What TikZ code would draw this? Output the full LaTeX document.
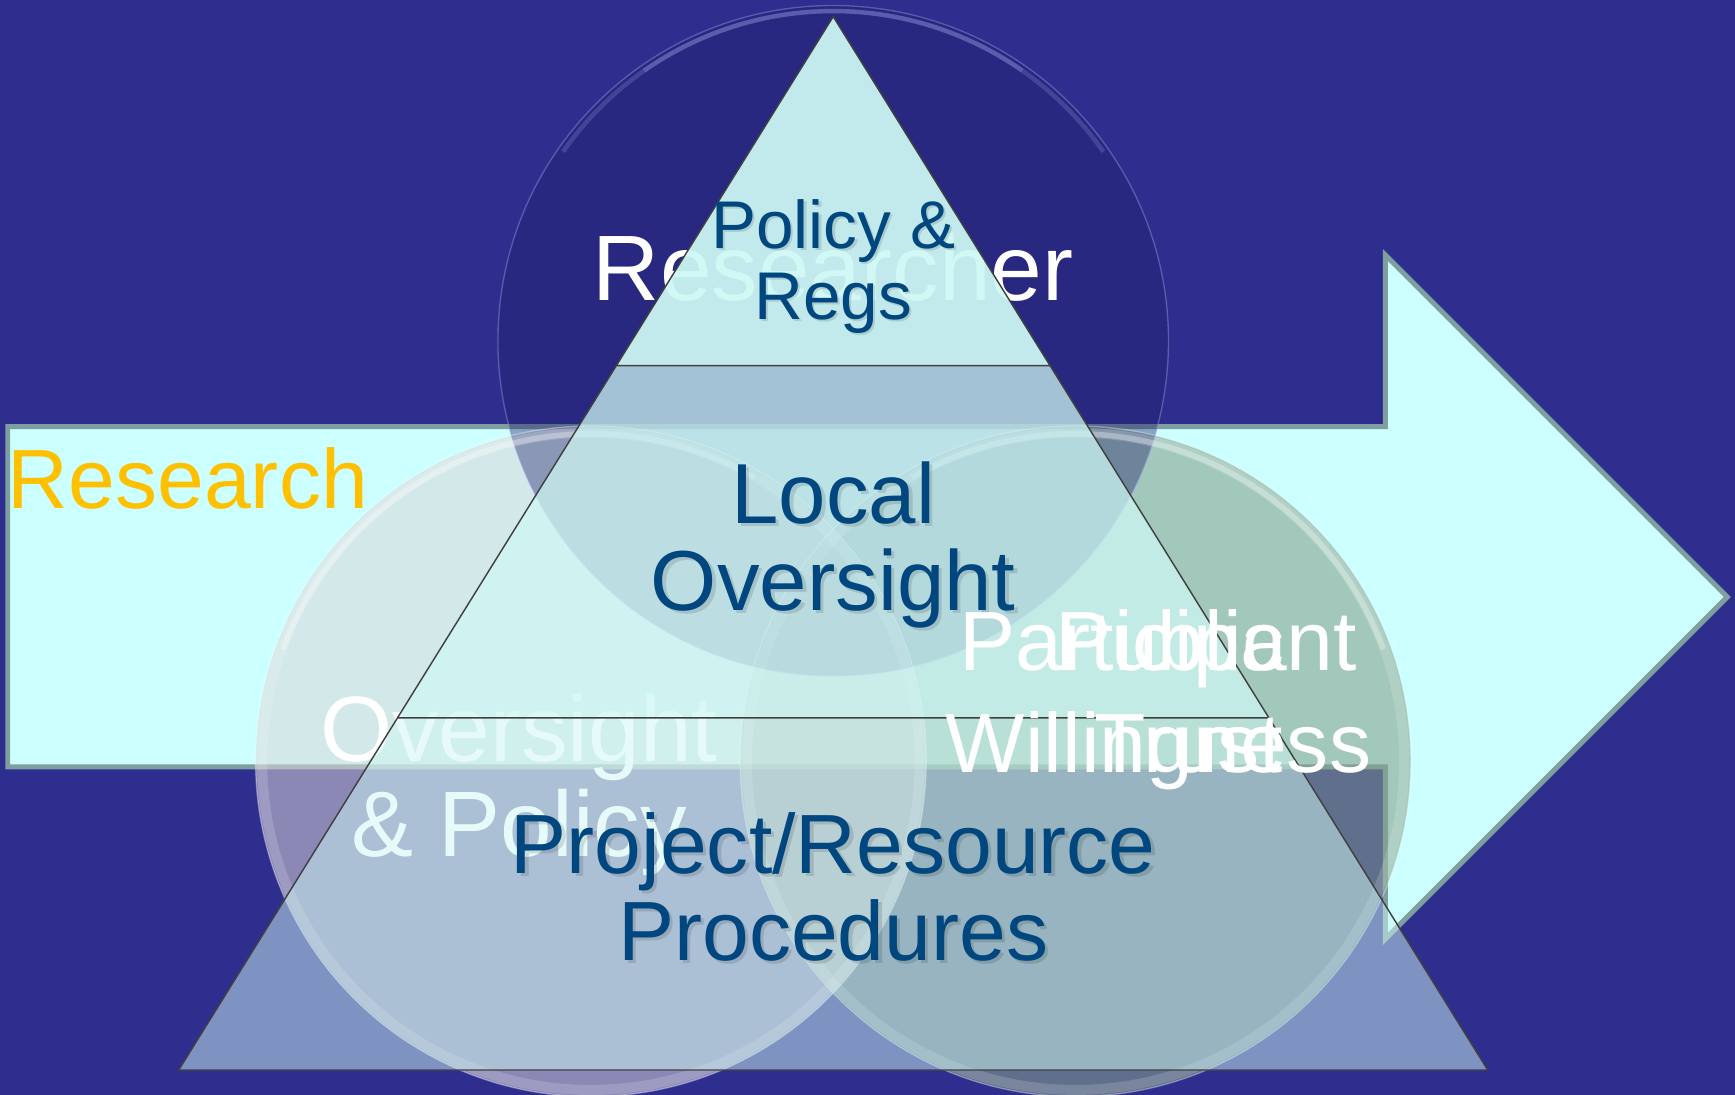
\documentclass[tikz,border=0pt]{standalone}
\usepackage{fontspec}
\setmainfont{Liberation Sans}
\usetikzlibrary{calc}

\definecolor{slideblue}{RGB}{46,46,142}
\definecolor{flowfill}{RGB}{204,255,255}
\definecolor{flowline}{RGB}{127,159,159}
\definecolor{flowtext}{RGB}{255,192,0}
\definecolor{tierfill}{RGB}{206,248,244}
\definecolor{tierline}{RGB}{64,64,64}
\definecolor{tiertext}{RGB}{0,70,127}
\definecolor{topcirc}{RGB}{31,31,107}
\definecolor{leftcirc}{RGB}{218,214,216}
\definecolor{rightcirc}{RGB}{133,161,139}
\definecolor{glint}{RGB}{150,150,225}

\tikzset{
  flow/.style={fill=flowfill, draw=flowline, line width=4.5pt, line join=miter},
  venn/.style={draw=white, draw opacity=0.35, line width=1.2pt},
  rim/.style={draw=white, draw opacity=0.16, line width=9pt},
  tier/.style={fill=tierfill},
  tierline/.style={draw=tierline, line width=1.3pt, line join=miter},
  tierlabel/.style={text=tiertext, align=center, anchor=base},
  tiershadow/.style={tierlabel, text=black, text opacity=0.12},
  circlabel/.style={text=white, align=center, anchor=base},
}

\begin{document}
\begin{tikzpicture}[x=1pt, y=-1pt, inner sep=0pt]
  \useasboundingbox (0,0) rectangle (1568,989.6);
  \fill[slideblue] (0,0) rectangle (1568,989.6);

  % the research arrow
  \draw[flow] (7,385.5) -- (1252,385.5) -- (1252,230.5) -- (1561,539.5)
    -- (1252,848.5) -- (1252,693) -- (7,693) -- cycle;
  \node[text=flowtext, anchor=base west, font=\fontsize{76}{80}\selectfont] (research) at (7,460) {Research};

  % venn circles
  \coordinate (researcher) at (753,308);
  \coordinate (oversight) at (534,688);
  \coordinate (public) at (972,688);
  \fill[rightcirc, fill opacity=0.58] (public) circle (303);
  \fill[leftcirc, fill opacity=0.54] (oversight) circle (303);
  \fill[topcirc, fill opacity=0.4] (researcher) circle (303);
  \draw[rim] (public) circle (297);
  \draw[rim] (oversight) circle (297);
  \draw[venn] (public) circle (303);
  \draw[venn] (oversight) circle (303);
  \draw[venn, draw=glint, draw opacity=0.45] (researcher) circle (303);
  % glassy highlight, stronger near the top
  \draw[glint, line width=4pt, opacity=0.25] ($(researcher)+(215:298)$) arc[start angle=215, end angle=325, radius=298];
  \draw[glint, line width=4pt, opacity=0.3] ($(researcher)+(235:298)$) arc[start angle=235, end angle=305, radius=298];
  \draw[white, line width=5pt, opacity=0.3] ($(oversight)+(200:296)$) arc[start angle=200, end angle=300, radius=296];
  \draw[white, line width=5pt, opacity=0.3] ($(public)+(240:296)$) arc[start angle=240, end angle=340, radius=296];

  % multi-line labels are placed by the baseline of their last line
  \node[circlabel, font=\fontsize{84}{86}\selectfont] (researcherlabel) at (753,272) {Researcher};
  \node[circlabel, font=\fontsize{84}{86}\selectfont] (oversightlabel) at (469,774.5) {Oversight\\\& Policy};

  % pyramid
  \coordinate (apex) at (753,15);
  \coordinate (baseL) at (161.5,967);
  \coordinate (baseR) at (1344.5,967);
  \coordinate (upL) at ($(apex)!0.3314!(baseL)$);
  \coordinate (upR) at ($(apex)!0.3314!(baseR)$);
  \coordinate (midL) at ($(apex)!0.6658!(baseL)$);
  \coordinate (midR) at ($(apex)!0.6658!(baseR)$);
  \fill[tier, fill opacity=0.93] (apex) -- (upR) -- (upL) -- cycle;
  \fill[tier, fill opacity=0.74] (upL) -- (upR) -- (midR) -- (midL) -- cycle;
  \fill[tier, fill opacity=0.5] (midL) -- (midR) -- (baseR) -- (baseL) -- cycle;
  \draw[tierline] (apex) -- (baseL) -- (baseR) -- cycle (upL) -- (upR) (midL) -- (midR);

  \node[tiershadow, font=\fontsize{61}{64.5}\selectfont] (policy-sh) at (755,291) {Policy \&\\Regs};
  \node[tierlabel, font=\fontsize{61}{64.5}\selectfont] (policy) at (753,289) {Policy \&\\Regs};
  \node[tiershadow, font=\fontsize{77}{78.3}\selectfont] (local-sh) at (756,554.3) {Local\\Oversight};
  \node[tierlabel, font=\fontsize{77}{78.3}\selectfont] (local) at (753,551.3) {Local\\Oversight};
  \node[tiershadow, font=\fontsize{76}{78.4}\selectfont] (project-sh) at (756,870.9) {Project/Resource\\Procedures};
  \node[tierlabel, font=\fontsize{76}{78.4}\selectfont] (project) at (753,867.9) {Project/Resource\\Procedures};

  % the two labels of the right circle sit on top of each other
  \node[circlabel, font=\fontsize{76}{92}\selectfont] (participant) at (1047,698) {Participant\\Willingness};
  \node[circlabel, font=\fontsize{76}{92}\selectfont] (trust) at (1057,698) {Public\\\hspace*{35pt}Trust};
\end{tikzpicture}
\end{document}
